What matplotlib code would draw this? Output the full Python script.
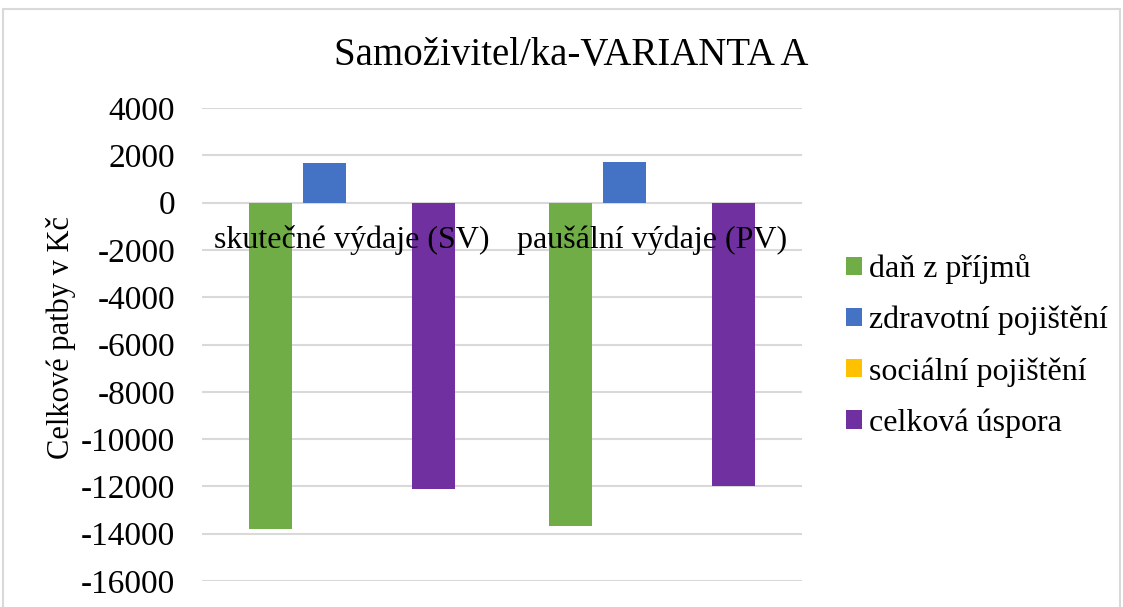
import matplotlib.pyplot as plt
import numpy as np
from matplotlib.patches import Rectangle

plt.rcParams['font.family'] = ['Liberation Serif', 'DejaVu Serif']

# data
categories = ['skutečné výdaje (SV)', 'paušální výdaje (PV)']
series_names = ['daň z příjmů', 'zdravotní pojištění', 'sociální pojištění', 'celková úspora']
dan = [-13800, -13690]
zdravotni = [1680, 1720]
socialni = [0, 0]
uspora = [-12120, -11970]
colors = ['#70AD47', '#4472C4', '#FFC000', '#7030A0']
yticks = list(range(-16000, 4001, 2000))

fig = plt.figure(figsize=(11.23, 6.07), dpi=100)
fig.patch.set_facecolor('white')

# light frame round the chart (cut off at the bottom like the reference)
fig.patches.append(Rectangle((3 / 1123, -0.05), 1117 / 1123, 1.05 - 9 / 607,
                             transform=fig.transFigure, fill=False,
                             edgecolor='#d9d9d9', linewidth=1.5))

ax = fig.add_axes([202 / 1123, (607 - 581) / 607, 600 / 1123, 473 / 607])

x = np.arange(len(categories))
width = 0.143
step = 0.181
all_series = [dan, zdravotni, socialni, uspora]
for k, vals in enumerate(all_series):
    ax.bar(x + (k - 1.5) * step, vals, width, color=colors[k],
           label=series_names[k], zorder=3)

ax.set_xlim(-0.5, 1.5)
ax.set_ylim(-16000, 4000)
ax.set_yticks(yticks)
ax.set_yticklabels([str(t) for t in yticks], fontsize=24)
ax.yaxis.grid(True, color='#d9d9d9', linewidth=1.5)
ax.set_axisbelow(True)
ax.set_xticks([])
ax.tick_params(axis='y', length=0, pad=19.4)
for s in ax.spines.values():
    s.set_visible(False)

# category labels sit just under the zero line, over the bars
for i, cat in enumerate(categories):
    ax.annotate(cat, (i, 0), xytext=(0, -32.4), textcoords='offset points',
                ha='center', va='baseline', fontsize=23, zorder=5)

fig.text(61 / 1123, 1 - 337.5 / 607, 'Celkové patby v Kč', fontsize=22,
         rotation=90, ha='center', va='center')
fig.text(571 / 1123, 1 - 65 / 607, 'Samoživitel/ka-VARIANTA A', fontsize=28,
         ha='center', va='baseline')

ax.legend(loc='center left', bbox_to_anchor=(846 / 1123, 1 - 346 / 607),
          bbox_transform=fig.transFigure, frameon=False, fontsize=23,
          handlelength=0.5, handleheight=0.5, handletextpad=0.22,
          labelspacing=0.68, borderpad=0, borderaxespad=0)

fig.savefig('out.png', dpi=100, facecolor='white')
